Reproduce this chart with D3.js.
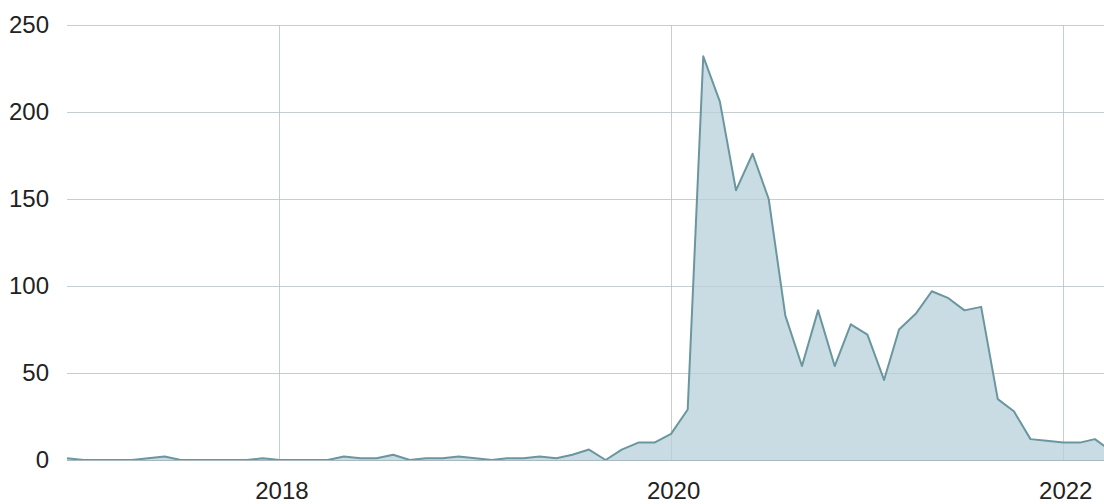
<!DOCTYPE html>
<html>
<head>
<meta charset="utf-8">
<script src="https://cdn.jsdelivr.net/npm/d3@7"></script>
<style>
  html, body { margin: 0; padding: 0; background: #fff; }
  svg { display: block; }
  text { font-family: "Liberation Sans", Arial, sans-serif; }
</style>
</head>
<body>
<svg id="chart" width="1104" height="504"></svg>
<script>
// Monthly series, Dec 2016 .. Apr 2022
const startMonth = "2016-12";
const values = [
  1,                                   // 2016-12
  0, 0, 0, 0, 1, 2, 0, 0, 0, 0, 0, 1,  // 2017
  0, 0, 0, 0, 2, 1, 1, 3, 0, 1, 1, 2,  // 2018
  1, 0, 1, 1, 2, 1, 3, 6, 0, 6, 10, 10, // 2019
  15, 29, 232, 206, 155, 176, 150, 83, 54, 86, 54, 78, // 2020
  72, 46, 75, 84, 97, 93, 86, 88, 35, 28, 12, 11,     // 2021
  10, 10, 12, 5                                       // 2022
];
const yTicks = [0, 50, 100, 150, 200, 250];
const xTickYears = [2018, 2020, 2022];

(function () {
const parse = d3.timeParse("%Y-%m");
const start = parse(startMonth);
const data = values.map((v, i) => ({ date: d3.timeMonth.offset(start, i), value: v }));

const svg = d3.select("#chart");
const W = 1104, H = 504;
const mLeft = 67, mRight = 1104, mTop = 25, mBottom = 460;

const x = d3.scaleTime()
  .domain([new Date(2016, 11, 1), new Date(2022, 2, 18)])
  .range([mLeft, mRight]);
const y = d3.scaleLinear().domain([0, 250]).range([mBottom, mTop]);

svg.append("defs").append("clipPath").attr("id", "clip")
  .append("rect").attr("x", mLeft).attr("y", 0).attr("width", mRight - mLeft).attr("height", H);

const xTicks = xTickYears.map(yr => new Date(yr, 0, 1));

// horizontal gridlines
svg.append("g").selectAll("line").data(yTicks).join("line")
  .attr("x1", mLeft).attr("x2", mRight)
  .attr("y1", d => Math.round(y(d)) + 0.5).attr("y2", d => Math.round(y(d)) + 0.5)
  .attr("stroke", "#dcdcdc").attr("stroke-width", 1);

// vertical gridlines
svg.append("g").selectAll("line").data(xTicks).join("line")
  .attr("x1", d => Math.round(x(d)) + 0.5).attr("x2", d => Math.round(x(d)) + 0.5)
  .attr("y1", mTop).attr("y2", mBottom)
  .attr("stroke", "#dcdcdc").attr("stroke-width", 1);

// area
const g = svg.append("g").attr("clip-path", "url(#clip)");
g.append("path").datum(data)
  .attr("fill", "#cadce3")
  .attr("d", d3.area().x(d => x(d.date)).y0(y(0)).y1(d => y(d.value)));

// grid faintly over fill
g.append("g").selectAll("line").data(yTicks).join("line")
  .attr("x1", mLeft).attr("x2", mRight)
  .attr("y1", d => Math.round(y(d)) + 0.5).attr("y2", d => Math.round(y(d)) + 0.5)
  .attr("stroke", "#b0c0c6").attr("stroke-opacity", 0.5).attr("stroke-width", 1);
g.append("g").selectAll("line").data(xTicks).join("line")
  .attr("x1", d => Math.round(x(d)) + 0.5).attr("x2", d => Math.round(x(d)) + 0.5)
  .attr("y1", mTop).attr("y2", mBottom)
  .attr("stroke", "#b0c0c6").attr("stroke-opacity", 0.5).attr("stroke-width", 1);

// baseline
svg.append("line")
  .attr("x1", mLeft).attr("x2", mRight)
  .attr("y1", Math.round(y(0)) + 0.5).attr("y2", Math.round(y(0)) + 0.5)
  .attr("stroke", "#a9b9bf").attr("stroke-width", 1);

g.append("path").datum(data)
  .attr("fill", "none")
  .attr("stroke", "#6a969f")
  .attr("stroke-width", 2)
  .attr("stroke-linejoin", "round")
  .attr("d", d3.line().x(d => x(d.date)).y(d => y(d.value)));

// y axis labels
const yAxis = d3.axisLeft(y).tickValues(yTicks).tickSize(0).tickPadding(0);
const ya = svg.append("g").attr("transform", `translate(${mLeft - 18},0)`).call(yAxis);
ya.select(".domain").remove();
ya.selectAll("text").attr("font-size", 24).attr("fill", "#222")
  .attr("font-family", "'Liberation Sans', Arial, sans-serif");

// x axis labels
const xAxis = d3.axisBottom(x).tickValues(xTicks).tickFormat(d3.timeFormat("%Y")).tickSize(0).tickPadding(0);
const xa = svg.append("g").attr("transform", `translate(2,${mBottom + 22})`).call(xAxis);
xa.select(".domain").remove();
xa.selectAll("text").attr("font-size", 24).attr("fill", "#222")
  .attr("font-family", "'Liberation Sans', Arial, sans-serif");
})();
</script>
</body>
</html>
